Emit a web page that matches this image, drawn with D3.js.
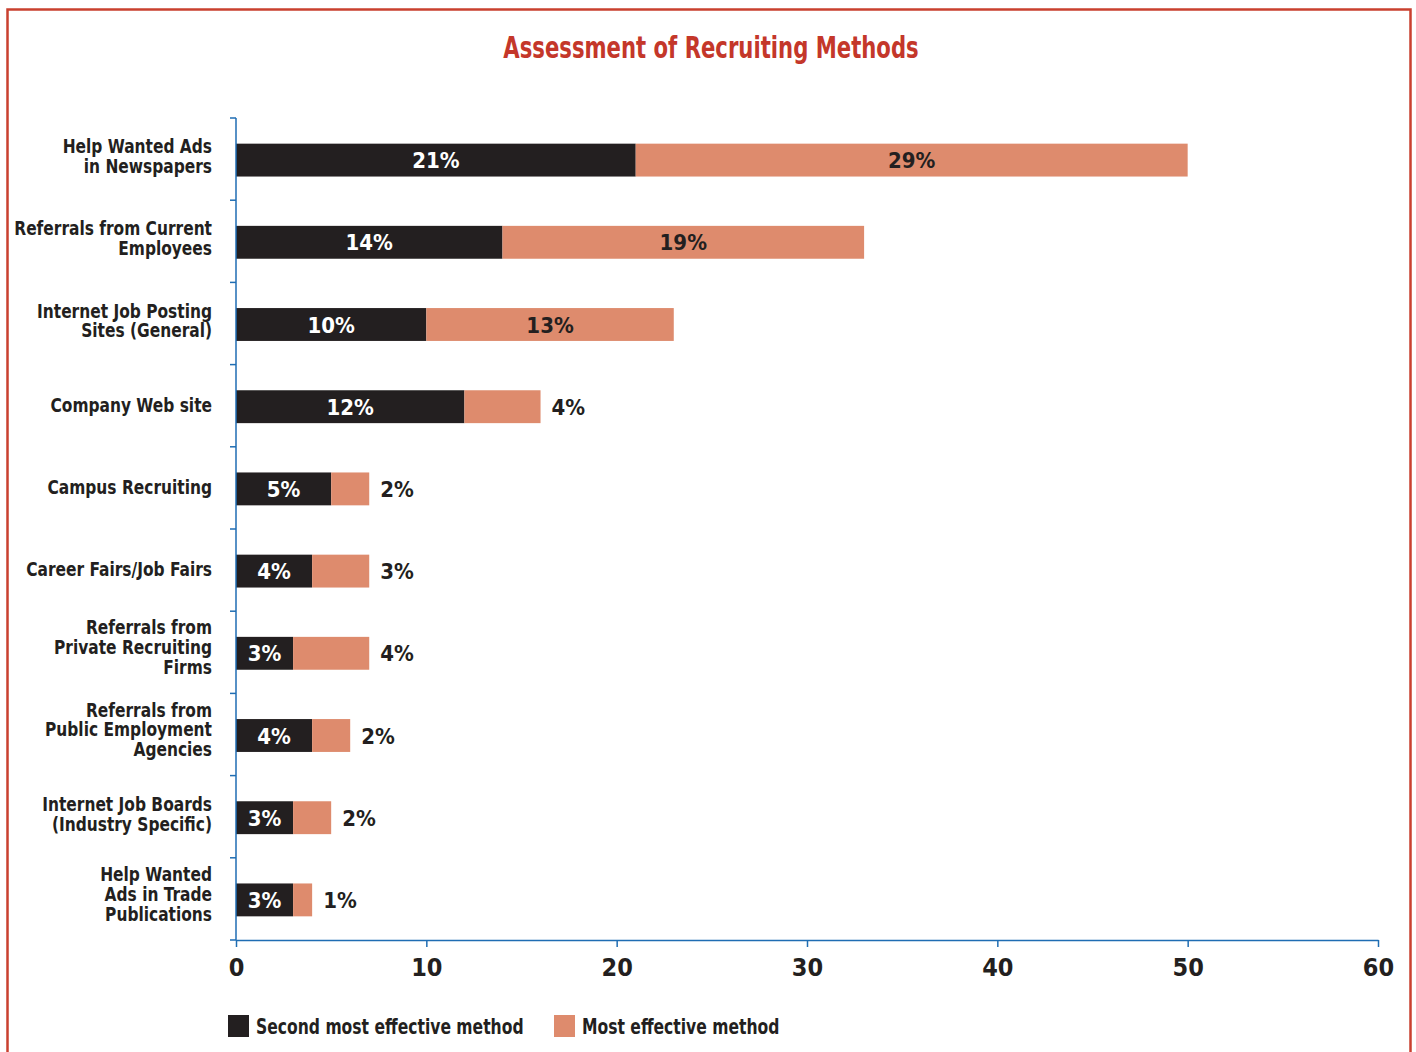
<!DOCTYPE html>
<html>
<head>
<meta charset="utf-8">
<script src="https://cdn.jsdelivr.net/npm/d3@7"></script>
<style>
  html, body { margin: 0; padding: 0; background: #fff; }
  svg { display: block; }
  text { font-family: "DejaVu Sans Condensed", "Liberation Sans Narrow", sans-serif; font-weight: bold; }
</style>
</head>
<body>
<svg id="chart" width="1416" height="1052"></svg>
<script>
// Recruiting methods, top to bottom (each entry is one label line)
const methods = [
  ["Help Wanted Ads", "in Newspapers"],
  ["Referrals from Current", "Employees"],
  ["Internet Job Posting", "Sites (General)"],
  ["Company Web site"],
  ["Campus Recruiting"],
  ["Career Fairs/Job Fairs"],
  ["Referrals from", "Private Recruiting", "Firms"],
  ["Referrals from", "Public Employment", "Agencies"],
  ["Internet Job Boards", "(Industry Specific)"],
  ["Help Wanted", "Ads in Trade", "Publications"]
];
// Share of respondents (%) for each method
const secondMost = [21, 14, 10, 12, 5, 4, 3, 4, 3, 3];
const mostEffective = [29, 19, 13, 4, 2, 3, 4, 2, 2, 1];
const xTicks = [0, 10, 20, 30, 40, 50, 60];
const seriesNames = ["Second most effective method", "Most effective method"];

const colors = { second: "#231f20", most: "#de8b6d", axis: "#1f6db3", title: "#c4372a", text: "#231f20" };

const svg = d3.select("#chart");

// Page frame
svg.append("rect")
  .attr("x", 7.5).attr("y", 9.5).attr("width", 1403).attr("height", 1100)
  .attr("fill", "none").attr("stroke", "#c9402f").attr("stroke-width", 2.5);

// Title (horizontally condensed)
svg.append("text")
  .attr("transform", "translate(711,58) scale(0.76,1)")
  .attr("text-anchor", "middle")
  .attr("fill", colors.title)
  .attr("font-size", 31)
  .text("Assessment of Recruiting Methods");

const plotLeft = 236, plotRight = 1378, plotTop = 118, plotBottom = 940;
const keys = methods.map((d, i) => i);

const x = d3.scaleLinear().domain([0, 60]).range([plotLeft, plotRight]);
const y = d3.scaleBand().domain(keys).range([plotTop + 1, plotBottom + 1])
  .paddingInner(0.6).paddingOuter(0.3);

const rows = keys.map(i => ({ i, a: secondMost[i], b: mostEffective[i] }));

const g = svg.append("g");

// Second most effective segment
g.selectAll("rect.second").data(rows).join("rect")
  .attr("class", "second")
  .attr("x", x(0)).attr("y", d => y(d.i))
  .attr("width", d => x(d.a) - x(0))
  .attr("height", y.bandwidth())
  .attr("fill", colors.second);

// Most effective segment, stacked after it
g.selectAll("rect.most").data(rows).join("rect")
  .attr("class", "most")
  .attr("x", d => x(d.a)).attr("y", d => y(d.i))
  .attr("width", d => x(d.a + d.b) - x(d.a))
  .attr("height", y.bandwidth())
  .attr("fill", colors.most);

// Value labels
g.selectAll("text.lblA").data(rows).join("text")
  .attr("class", "lblA")
  .attr("x", d => (x(0) + x(d.a)) / 2)
  .attr("y", d => y(d.i) + y.bandwidth() / 2 + 8)
  .attr("text-anchor", "middle")
  .attr("fill", "#fff").attr("font-size", 22)
  .text(d => d.a + "%");

const inside = d => d.b >= 8;
g.selectAll("text.lblB").data(rows).join("text")
  .attr("class", "lblB")
  .attr("x", d => inside(d) ? (x(d.a) + x(d.a + d.b)) / 2 : x(d.a + d.b) + 11)
  .attr("y", d => y(d.i) + y.bandwidth() / 2 + 8)
  .attr("text-anchor", d => inside(d) ? "middle" : "start")
  .attr("fill", colors.text).attr("font-size", 22)
  .text(d => d.b + "%");

// Category labels (horizontally condensed)
const cat = g.selectAll("text.cat").data(rows).join("text")
  .attr("class", "cat")
  .attr("text-anchor", "end")
  .attr("fill", colors.text).attr("font-size", 19.5)
  .attr("transform", d => {
    const n = methods[d.i].length;
    const cy = y(d.i) + y.bandwidth() / 2;
    return `translate(212,${cy + 5 - (n - 1) * 12}) scale(0.88,1)`;
  });
cat.selectAll("tspan").data(d => methods[d.i]).join("tspan")
  .attr("x", 0).attr("dy", (d, j) => j === 0 ? 0 : 20)
  .text(d => d);

// Y axis line with ticks at band boundaries
const yAxis = svg.append("g");
yAxis.append("line")
  .attr("x1", plotLeft).attr("x2", plotLeft).attr("y1", plotTop).attr("y2", plotBottom)
  .attr("stroke", colors.axis).attr("stroke-width", 1.5);
const bounds = d3.range(keys.length + 1).map(k => plotTop + k * y.step());
yAxis.selectAll("line.tk").data(bounds).join("line")
  .attr("class", "tk")
  .attr("x1", plotLeft - 6).attr("x2", plotLeft).attr("y1", d => d).attr("y2", d => d)
  .attr("stroke", colors.axis).attr("stroke-width", 1.5);

// X axis
const xAxis = svg.append("g")
  .attr("transform", `translate(0,${plotBottom})`)
  .call(d3.axisBottom(x).tickValues(xTicks).tickSize(7).tickSizeOuter(0).tickPadding(11));
xAxis.select(".domain").attr("stroke", colors.axis).attr("stroke-width", 1.5);
xAxis.selectAll(".tick line").attr("stroke", colors.axis).attr("stroke-width", 1.5);
xAxis.selectAll(".tick text")
  .attr("fill", colors.text).attr("font-size", 25)
  .style("font-family", "\"DejaVu Sans Condensed\", sans-serif")
  .style("font-weight", "bold");

// Legend
const legend = svg.append("g").attr("transform", "translate(228,1015)");
const legendItems = [
  { name: seriesNames[0], color: colors.second, dx: 0 },
  { name: seriesNames[1], color: colors.most, dx: 326 }
];
const li = legend.selectAll("g").data(legendItems).join("g")
  .attr("transform", d => `translate(${d.dx},0)`);
li.append("rect").attr("width", 21).attr("height", 22).attr("fill", d => d.color);
li.append("text").attr("transform", "translate(28,19) scale(0.845,1)")
  .attr("fill", colors.text).attr("font-size", 20.5)
  .text(d => d.name);
</script>
</body>
</html>
